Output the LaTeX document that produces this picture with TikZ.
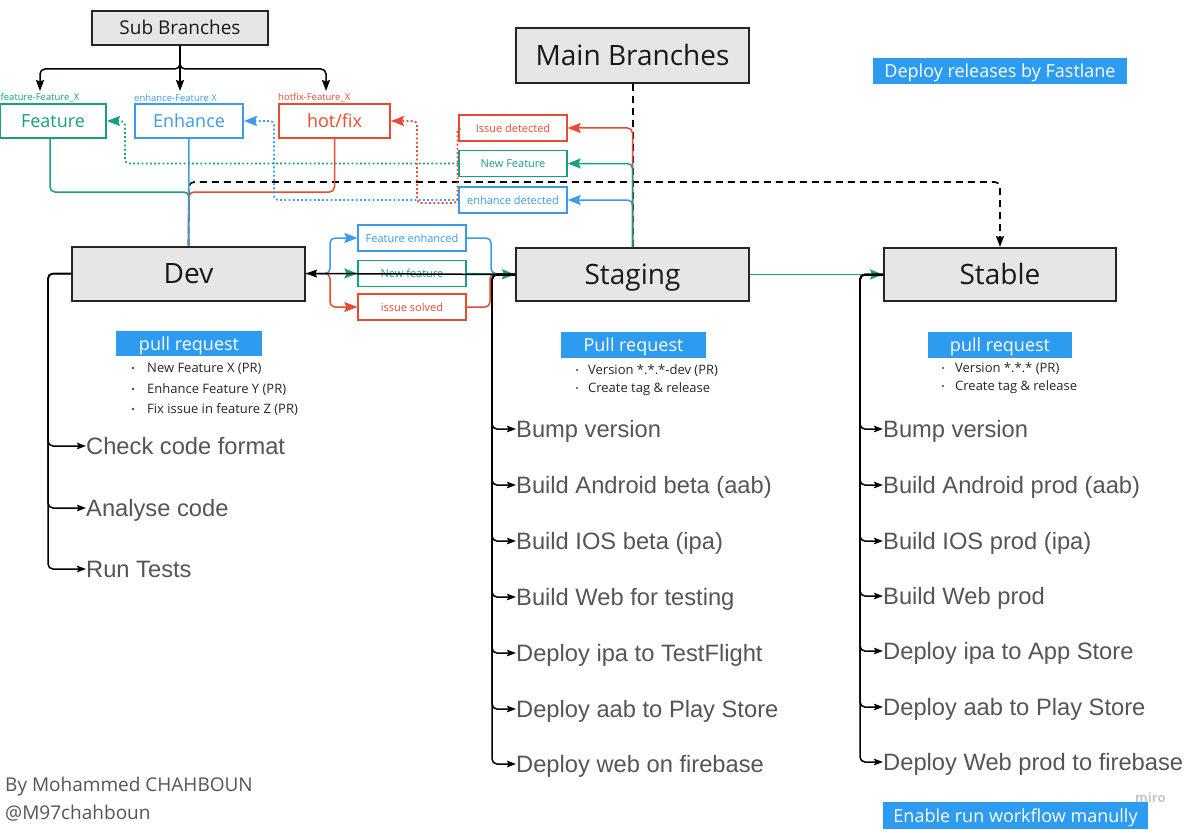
\documentclass[tikz,border=0pt]{standalone}
\usepackage{fontspec}
\setmainfont{Open Sans}
\newfontfamily\arialf{Liberation Sans}
\usetikzlibrary{arrows.meta}
\definecolor{gr}{RGB}{22,160,125}
\definecolor{bl}{RGB}{60,155,232}
\definecolor{rd}{RGB}{232,76,48}
\definecolor{boxgray}{RGB}{230,230,230}
\definecolor{prblue}{RGB}{45,155,240}
\definecolor{txtgray}{RGB}{85,85,85}
\tikzset{
  mainbox/.style={draw=black!85, line width=2pt, fill=boxgray, inner sep=0pt, text=black!90,
    font=\fontsize{28}{32}\selectfont, text height=20pt, text depth=0pt},
  colbox/.style={draw=#1, line width=2pt, fill=white, text=#1, inner sep=0pt, minimum height=34pt,
    font=\fontsize{18}{22}\selectfont, text height=13pt, text depth=0pt},
  smallbox/.style={draw=#1, line width=1.3pt, fill=white, text=#1, inner sep=0pt, minimum width=108pt,
    minimum height=26pt, font=\fontsize{11}{13}\selectfont, text height=8pt, text depth=0pt},
  tagbox/.style={fill=prblue, text=white, inner sep=0pt, font=\fontsize{18}{22}\selectfont,
    text height=13pt, text depth=0pt},
  listtxt/.style={anchor=west, inner sep=0pt, text=txtgray, font=\arialf\fontsize{23.7}{26}\selectfont,
    text height=17pt, text depth=0pt},
  bultxt/.style={anchor=west, inner sep=0pt, text=black!85, font=\fontsize{13}{15}\selectfont,
    text height=9.3pt, text depth=0pt},
  lbl/.style={inner sep=0pt, font=\fontsize{9.5}{11}\selectfont, text=#1},
  conn/.style={line width=1.5pt, rounded corners=5pt},
  ctip/.style={-{Stealth[length=13pt,width=10pt,inset=2pt]}},
  btip/.style={-{Stealth[length=11pt,width=8pt,inset=1.5pt]}},
  ltip/.style={-{Stealth[length=9pt,width=6.5pt,inset=1.5pt]}},
  dotl/.style={line width=1.8pt, dash pattern=on 1.8pt off 2.4pt, rounded corners=4pt},
  dashl/.style={line width=1.6pt, dash pattern=on 7pt off 5pt, rounded corners=5pt},
}
\begin{document}
\begin{tikzpicture}[x=1pt,y=-1pt]
\useasboundingbox (0,0) rectangle (1201,832);
\fill[white] (0,0) rectangle (1201,832);

% main boxes
\node[mainbox, minimum width=176pt, minimum height=34pt, font=\fontsize{19}{22}\selectfont, text height=13.5pt] (Sub) at (180,28) {Sub Branches};
\node[mainbox, minimum width=233pt, minimum height=55pt] (Main) at (632.5,55.5) {Main Branches};
\node[mainbox, minimum width=233pt, minimum height=54pt] (Dev) at (188.5,273.5) {Dev};
\node[mainbox, minimum width=233pt, minimum height=53pt] (Staging) at (632.5,274.5) {Staging};
\node[mainbox, minimum width=232pt, minimum height=53pt] (Stable) at (1000,274.5) {Stable};

% sub branch boxes
\node[colbox=gr, minimum width=106pt] (Feature) at (53,121) {Feature};
\node[colbox=bl, minimum width=108pt] (Enhance) at (189,121) {Enhance};
\node[colbox=rd, minimum width=111pt] (Hot) at (334.5,121) {hot/fix};
\node[lbl=gr, anchor=west] (lf) at (0.5,98) {feature-Feature\_X};
\node[lbl=bl, anchor=west] (le) at (134,98) {enhance-Feature X};
\node[lbl=rd, anchor=west] (lh) at (278,98) {hotfix-Feature\_X};
\coordinate (af) at (40,91);
\coordinate (ae) at (180,91);
\coordinate (ah) at (326,91);

% event boxes
\node[smallbox=rd] (Issue) at (513,128) {Issue detected};
\node[smallbox=gr] (NewF) at (513,163.5) {New Feature};
\node[smallbox=bl] (EnhD) at (513,200) {enhance detected};
\node[smallbox=bl] (FeEn) at (412,238) {Feature enhanced};
\node[smallbox=gr] (NewF2) at (412,273.5) {New feature};
\node[smallbox=rd] (IssS) at (412,307) {issue solved};

% tags
\node[tagbox, minimum width=254pt, minimum height=26pt] (Fast) at (1000,71) {Deploy releases by Fastlane};
\node[tagbox, minimum width=265pt, minimum height=27pt] (Manual) at (1015.5,815.5) {Enable run workflow manully};
\node[tagbox, minimum width=146pt, minimum height=25pt] (PR1) at (189,343.5) {pull request};
\node[tagbox, minimum width=145pt, minimum height=26pt] (PR2) at (633.5,345) {Pull request};
\node[tagbox, minimum width=144pt, minimum height=26pt] (PR3) at (1000,345) {pull request};

% bullets
\foreach \y in {368,389,409} \fill[black!70] (133,\y) circle (1.3pt);
\node[bultxt] (b11) at (147,368) {New Feature X (PR)};
\node[bultxt] (b12) at (147,389) {Enhance Feature Y (PR)};
\node[bultxt] (b13) at (147,409) {Fix issue in feature Z (PR)};
\foreach \y in {370,388} \fill[black!70] (577,\y) circle (1.2pt);
\node[bultxt] (b21) at (588,370) {Version *.*.*-dev (PR)};
\node[bultxt] (b22) at (588,388) {Create tag \& release};
\foreach \y in {368,386} \fill[black!70] (943,\y) circle (1.2pt);
\node[bultxt] (b31) at (955,368) {Version *.*.* (PR)};
\node[bultxt] (b32) at (955,386) {Create tag \& release};

% lists
\node[listtxt] (d1) at (86,446) {Check code format};
\node[listtxt] (d2) at (86,508) {Analyse code};
\node[listtxt] (d3) at (86,569) {Run Tests};

\node[listtxt] (s1) at (516,429) {Bump version};
\node[listtxt] (s2) at (516,485) {Build Android beta (aab)};
\node[listtxt] (s3) at (516,541) {Build IOS beta (ipa)};
\node[listtxt] (s4) at (516,597) {Build Web for testing};
\node[listtxt] (s5) at (516,653) {Deploy ipa to TestFlight};
\node[listtxt] (s6) at (516,709) {Deploy aab to Play Store};
\node[listtxt] (s7) at (516,764) {Deploy web on firebase};

\node[listtxt] (t1) at (883,429) {Bump version};
\node[listtxt] (t2) at (883,485) {Build Android prod (aab)};
\node[listtxt] (t3) at (883,541) {Build IOS prod (ipa)};
\node[listtxt] (t4) at (883,596) {Build Web prod};
\node[listtxt] (t5) at (883,651) {Deploy ipa to App Store};
\node[listtxt] (t6) at (883,707) {Deploy aab to Play Store};
\node[listtxt] (t7) at (883,762) {Deploy Web prod to firebase};

% author and watermark
\node[anchor=west, inner sep=0pt, text=txtgray, font=\fontsize{19}{21}\selectfont] (auth1) at (5,787) {By Mohammed CHAHBOUN};
\node[anchor=west, inner sep=0pt, text=txtgray, font=\fontsize{19}{21}\selectfont] (auth2) at (5,813) {@M97chahboun};
\node[anchor=west, inner sep=0pt, text=black!22, font=\bfseries\fontsize{13}{15}\selectfont] (miro) at (1135,798) {miro};

% ---- connectors ----
% sub branches
\draw[conn, black, btip] (Sub.south) -- (180,69) -| (af);
\draw[conn, black, btip] (Sub.south) -- (ae);
\draw[conn, black, btip] (Sub.south) -- (180,69) -| (ah);

% dashed
\draw[dashl, black, btip] (Dev.north) -- (189,182) -| (Stable.north);
\draw[dashl, black, line width=2pt] (Main.south) -- (Staging.north);

% branches merging into Dev
\draw[conn, gr] (Feature.south -| 50,0) |- (189,192) -- (Dev.north);
\draw[conn, rd] (Hot.south) |- (189,192) -- (Dev.north);
\draw[conn, bl] (Enhance.south -| 189,0) -- (Dev.north);

% staging back to events
\draw[conn, bl, ctip] (Staging.north) |- (EnhD.east);
\draw[conn, rd, ctip] (Staging.north) |- (Issue.east);
\draw[conn, gr, ctip] (Staging.north) |- (NewF.east);

% dotted feedback to sub branches
\draw[dotl, gr, ctip] (NewF.west) -- (125,163.5) |- (Feature.east);
\draw[dotl, bl, ctip] (EnhD.west) -- (274,200) |- (Enhance.east);
\draw[dotl, rd, ctip] (Issue.west) -- (457.5,128) |- (417,203) |- (Hot.east);

% dev to staging
\draw[conn, bl, ctip] (Dev.east) -- (330,273.5) |- (FeEn.west);
\draw[conn, bl] (FeEn.east) -| (491,273.5) -- (Staging.west);
\draw[conn, rd, ctip] (Dev.east) -- (330,273.5) |- (IssS.west);
\draw[conn, rd] (IssS.east) -| (490,273.5) -- (Staging.west);
\draw[conn, gr, ctip] (Dev.east) -- (NewF2.west);
\draw[conn, gr, ctip] (NewF2.east) -- (Staging.west);
\draw[conn, black, btip] (Staging.west) -- (Dev.east);

% staging to stable
\draw[conn, gr, ctip] (Staging.east) -- (Stable.west);

% lists
\foreach \n in {d1,d2,d3} \draw[conn, black, ltip] (Dev.west) -- (48,273.5) |- (\n.west);
\foreach \n in {s1,s2,s3,s4,s5,s6,s7} \draw[conn, black, ltip] (Staging.west) -- (492,274.5) |- (\n.west);
\foreach \n in {t1,t2,t3,t4,t5,t6,t7} \draw[conn, black, ltip] (Stable.west) -- (860,274.5) |- (\n.west);
\end{tikzpicture}
\end{document}
